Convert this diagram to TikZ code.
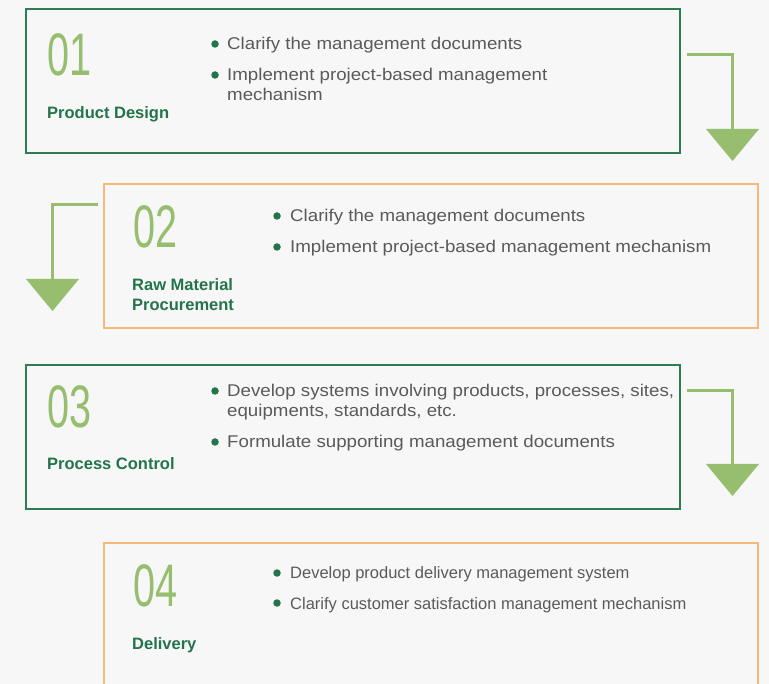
\documentclass[tikz,border=0pt]{standalone}
\usepackage{fontspec}
\setmainfont{Liberation Sans}
\newfontfamily\bodyfont[FakeStretch=1.1]{Liberation Sans}
\newfontfamily\numfont[FakeStretch=0.66]{Liberation Sans}
\definecolor{bg}{HTML}{F7F7F7}
\definecolor{dgreen}{HTML}{2E7D52}
\definecolor{lgreen}{HTML}{96BE6E}
\definecolor{orng}{HTML}{F6B979}
\definecolor{txt}{HTML}{5A5A5A}
\definecolor{lbl}{HTML}{23744A}
\tikzset{
  gbox/.style={draw=dgreen,line width=1.3pt},
  obox/.style={draw=orng,line width=1.3pt},
  num/.style={anchor=base west,inner sep=0pt,text=lgreen,font=\numfont\fontsize{60}{60}\selectfont},
  lab/.style={anchor=base west,inner sep=0pt,text=lbl,font=\bfseries\fontsize{16.5}{20}\selectfont,align=left},
  btxt/.style={anchor=base west,inner sep=0pt,text=txt,font=\bodyfont\fontsize{17}{20.5}\selectfont,align=left},
  btxtc/.style={anchor=base west,inner sep=0pt,text=txt,font=\fontsize{16.5}{20}\selectfont,align=left},
  dot/.style={circle,fill=lbl,inner sep=0pt,minimum size=7.5pt},
  conn/.style={draw=lgreen,line width=3pt},
  tip/.style={fill=lgreen},
}
\begin{document}
\begin{tikzpicture}[x=1pt,y=-1pt]
\fill[bg] (0,0) rectangle (769,684);
\useasboundingbox (0,0) rectangle (769,684);
% boxes
\draw[gbox] (26,9) rectangle (680,153);
\draw[obox] (104,184) rectangle (758,328);
\draw[gbox] (26,365) rectangle (680,509);
\draw[obox] (104,543) rectangle (758,690);
% box 1
\node[num] (n1) at (47,76) {01};
\node[lab] (l1) at (47,119) {Product Design};
\node[dot] (d11) at (215,44) {};
\node[btxt] (t11) at (227,50) {Clarify the management documents};
\node[dot] (d12) at (215,75) {};
\node[btxt] (t12) at (227,101) {Implement project-based management\\mechanism};
% box 2
\node[num] (n2) at (133,248) {02};
\node[lab] (l2) at (132,311) {Raw Material\\Procurement};
\node[dot] (d21) at (277,216) {};
\node[btxt] (t21) at (290,222) {Clarify the management documents};
\node[dot] (d22) at (277,247) {};
\node[btxt] (t22) at (290,253) {Implement project-based management mechanism};
% box 3
\node[num] (n3) at (47,428) {03};
\node[lab] (l3) at (47,470) {Process Control};
\node[dot] (d31) at (215,391) {};
\node[btxt] (t31) at (227,417) {Develop systems involving products, processes, sites,\\equipments, standards, etc.};
\node[dot] (d32) at (215,442) {};
\node[btxt] (t32) at (227,448) {Formulate supporting management documents};
% box 4
\node[num] (n4) at (133,606) {04};
\node[lab] (l4) at (132,649) {Delivery};
\node[dot] (d41) at (277,573) {};
\node[btxtc] (t41) at (290,579) {Develop product delivery management system};
\node[dot] (d42) at (277,603) {};
\node[btxtc] (t42) at (290,609) {Clarify customer satisfaction management mechanism};
% arrows
\coordinate (a1s) at (687,55);
\coordinate (a1e) at (732,131);
\draw[conn] (a1s) -| (a1e);
\fill[tip] (706,129) -- (759,129) -- (732.5,161) -- cycle;
\coordinate (a2s) at (98,205);
\coordinate (a2e) at (52,281);
\draw[conn] (a2s) -| (a2e);
\fill[tip] (26,279) -- (79,279) -- (52.5,311) -- cycle;
\coordinate (a3s) at (687,391);
\coordinate (a3e) at (732,466);
\draw[conn] (a3s) -| (a3e);
\fill[tip] (706,464) -- (759,464) -- (732.5,496) -- cycle;
\end{tikzpicture}
\end{document}
